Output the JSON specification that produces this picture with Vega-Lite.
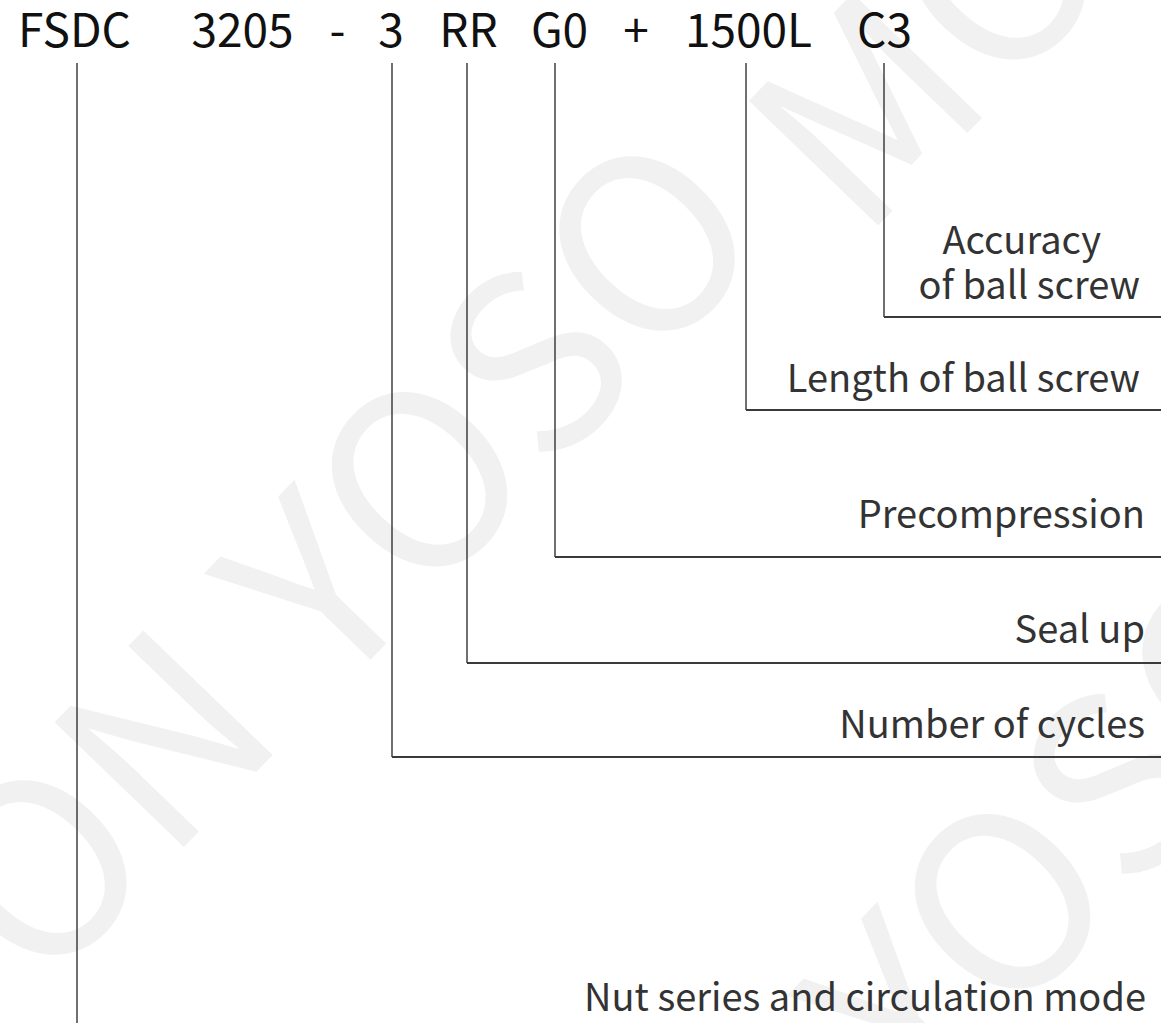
{
  "$schema": "https://vega.github.io/schema/vega-lite/v6.json",
  "width": 1161,
  "height": 1023,
  "autosize": {"type": "none"},
  "padding": 0,
  "background": "white",
  "config": {"view": {"stroke": null}},
  "datasets": {
    "watermark": [
      {"word": "ON", "cx": 112, "cy": 815},
      {"word": "YOSO", "cx": 501, "cy": 418},
      {"word": "MO", "cx": 940, "cy": 55},
      {"word": "YOSO", "cx": 1084, "cy": 840}
    ],
    "code": [
      {"token": "FSDC", "pos": 74.5},
      {"token": "3205", "pos": 242.5},
      {"token": "-", "pos": 337.5},
      {"token": "3", "pos": 391},
      {"token": "RR", "pos": 468.5},
      {"token": "G0", "pos": 559.5},
      {"token": "+", "pos": 636},
      {"token": "1500L", "pos": 748.5},
      {"token": "C3", "pos": 884.5}
    ],
    "branches": [
      {"part": "FSDC", "pos": 77, "end": 1023, "arm": 0},
      {"part": "3", "pos": 392, "end": 757, "arm": 1},
      {"part": "RR", "pos": 467, "end": 663, "arm": 1},
      {"part": "G0", "pos": 555, "end": 557, "arm": 1},
      {"part": "1500L", "pos": 746, "end": 410, "arm": 1},
      {"part": "C3", "pos": 884, "end": 317, "arm": 1}
    ],
    "labels": [
      {"label": "Accuracy", "right": 1101, "base": 254},
      {"label": "of ball screw", "right": 1140, "base": 299},
      {"label": "Length of ball screw", "right": 1140, "base": 392},
      {"label": "Precompression", "right": 1145, "base": 528},
      {"label": "Seal up", "right": 1145, "base": 643},
      {"label": "Number of cycles", "right": 1145, "base": 738},
      {"label": "Nut series and circulation mode", "right": 1146, "base": 1011}
    ]
  },
  "resolve": {"scale": {"x": "shared", "y": "shared"}},
  "layer": [
    {
      "data": {"name": "watermark"},
      "mark": {"type": "text", "font": "Noto Sans CJK SC", "fontSize": 245, "fontWeight": 400, "align": "center", "baseline": "middle", "angle": -46, "color": "#f1f1f1", "clip": true},
      "encoding": {
        "x": {"field": "cx", "type": "quantitative", "scale": {"domain": [0, 1161], "nice": false, "zero": false}, "axis": null},
        "y": {"field": "cy", "type": "quantitative", "scale": {"domain": [0, 1023], "nice": false, "zero": false, "reverse": true}, "axis": null},
        "text": {"field": "word"}
      }
    },
    {
      "data": {"name": "branches"},
      "mark": {"type": "rule", "color": "#222222", "strokeWidth": 1.3},
      "encoding": {
        "x": {"field": "pos", "type": "quantitative"},
        "y": {"field": "end", "type": "quantitative"},
        "y2": {"datum": 63}
      }
    },
    {
      "data": {"name": "branches"},
      "transform": [{"filter": "datum.arm == 1"}],
      "mark": {"type": "rule", "color": "#3a3a3a", "strokeWidth": 1.8},
      "encoding": {
        "x": {"field": "pos", "type": "quantitative"},
        "x2": {"datum": 1161},
        "y": {"field": "end", "type": "quantitative"}
      }
    },
    {
      "data": {"name": "code"},
      "mark": {"type": "text", "font": "Noto Sans CJK SC", "fontSize": 46, "align": "center", "baseline": "alphabetic", "color": "#111111"},
      "encoding": {
        "x": {"field": "pos", "type": "quantitative"},
        "y": {"datum": 47},
        "text": {"field": "token"}
      }
    },
    {
      "data": {"name": "labels"},
      "mark": {"type": "text", "font": "Noto Sans CJK SC", "fontSize": 38, "align": "right", "baseline": "alphabetic", "color": "#333333"},
      "encoding": {
        "x": {"field": "right", "type": "quantitative"},
        "y": {"field": "base", "type": "quantitative"},
        "text": {"field": "label"}
      }
    }
  ]
}
